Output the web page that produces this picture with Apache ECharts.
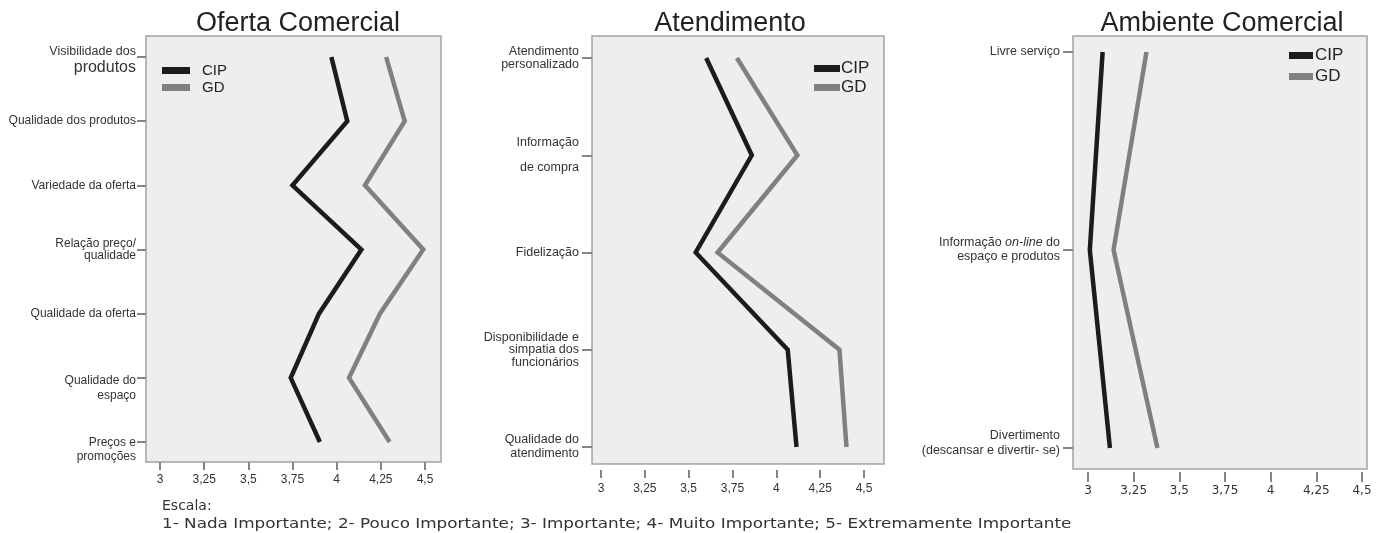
<!DOCTYPE html>
<html><head><meta charset="utf-8">
<script src="https://cdn.jsdelivr.net/npm/echarts@6/dist/echarts.min.js"></script>
<style>html,body{margin:0;padding:0;background:#fff}#c{width:1387px;height:533px}</style>
</head><body><div id="c"></div>
<script>
// ---- data ----
const panelTitles = ['Oferta Comercial', 'Atendimento', 'Ambiente Comercial'];
const seriesNames = ['CIP', 'GD'];
const tickValues = [3, 3.25, 3.5, 3.75, 4, 4.25, 4.5];
const tickLabels = ['3', '3,25', '3,5', '3,75', '4', '4,25', '4,5'];

const ofertaCategories = ['Visibilidade dos\nprodutos', 'Qualidade dos produtos', 'Variedade da oferta', 'Relação preço/\nqualidade', 'Qualidade da oferta', 'Qualidade do\nespaço', 'Preços e\npromoções'];
const ofertaCIP = [3.97, 4.06, 3.75, 4.14, 3.90, 3.74, 3.905];
const ofertaGD = [4.28, 4.385, 4.16, 4.49, 4.245, 4.07, 4.30];

const atendCategories = ['Atendimento\npersonalizado', 'Informação\nde compra', 'Fidelização', 'Disponibilidade e\nsimpatia dos\nfuncionários', 'Qualidade do\natendimento'];
const atendCIP = [3.60, 3.86, 3.54, 4.065, 4.115];
const atendGD = [3.775, 4.12, 3.665, 4.36, 4.40];

const ambCategories = ['Livre serviço', 'Informação on-line do\nespaço e produtos', 'Divertimento\n(descansar e divertir- se)'];
const ambCIP = [3.08, 3.01, 3.12];
const ambGD = [3.32, 3.14, 3.38];

const scaleLabel = 'Escala:';
const scaleText = '1- Nada Importante; 2- Pouco Importante; 3- Importante; 4- Muito Importante; 5- Extremamente Importante';

// ---- layout / style ----
const panels = [
  {cats: ofertaCategories, cip: ofertaCIP, gd: ofertaGD,
   box: {left: 146, top: 36, width: 295, height: 426},
   data: {left: 160, top: 57, width: 265, height: 385},
   yOffset: 14, xOffset: 20, xTick: 8, xMargin: 12, xFont: 'Liberation Sans', yTick: 9, yMargin: 10, yFont: 12,
   titleX: 293,
   itemStyles: [{padding: [8, 0, 0, 0]}, null, null, {lineHeight: 12}, null, {lineHeight: 15, padding: [21, 0, 0, 0]}, {lineHeight: 14, padding: [16, 0, 0, 0]}],
   legend: {left: 157, top: 58, itemWidth: 28, itemGap: 2, fontSize: 15, textPad: [0, 0, 0, 7]}},
  {cats: atendCategories, cip: atendCIP, gd: atendGD,
   box: {left: 592, top: 36, width: 292, height: 428},
   data: {left: 601, top: 58, width: 263, height: 389},
   yOffset: 9, xOffset: 23, xTick: 8, xMargin: 13, xFont: 'Liberation Sans', yTick: 10, yMargin: 13, yFont: 12.5,
   titleX: 725,
   itemStyles: [{lineHeight: 13}, {lineHeight: 25}, null, {lineHeight: 12.5}, {lineHeight: 14}],
   legend: {left: 809, top: 55, itemWidth: 26, itemGap: 2, fontSize: 17, textPad: [0, 0, 0, -4]}},
  {cats: ambCategories, cip: ambCIP, gd: ambGD,
   box: {left: 1073, top: 36, width: 294, height: 433},
   data: {left: 1088, top: 52, width: 274, height: 396},
   yOffset: 15, xOffset: 24, xTick: 10, xMargin: 13, xFont: 'DejaVu Sans', yTick: 10, yMargin: 13, yFont: 12.5,
   titleX: 1217,
   itemStyles: [null, {lineHeight: 14}, {lineHeight: 15, padding: [0, 0, 9, 0]}],
   legend: {left: 1284, top: 42, itemWidth: 24, itemGap: 4, fontSize: 17, textPad: [0, 0, 0, -3]}}
];
const colors = {CIP: '#1c1c1c', GD: '#808080'};
const tickColor = '#858585';

const grid = [], xAxis = [], yAxis = [], series = [], legend = [], title = [];
panels.forEach((p, i) => {
  // background box grid
  grid.push(Object.assign({show: true, backgroundColor: '#eeeeee', borderColor: '#a3a3a3', borderWidth: 1.5, z: 0}, p.box));
  const bi = grid.length - 1;
  xAxis.push({gridIndex: bi, type: 'value', show: false, min: 0, max: 1});
  yAxis.push({gridIndex: bi, type: 'value', show: false, min: 0, max: 1});
  // data grid
  grid.push(Object.assign({show: false}, p.data));
  const di = grid.length - 1;
  xAxis.push({
    gridIndex: di, type: 'value', min: tickValues[0], max: tickValues[tickValues.length - 1], interval: 0.25,
    position: 'bottom', offset: p.xOffset,
    axisLine: {show: false}, splitLine: {show: false},
    axisTick: {show: true, length: p.xTick, lineStyle: {color: tickColor, width: 2}},
    axisLabel: {margin: p.xMargin, fontSize: 12, fontFamily: p.xFont, color: '#333',
      formatter: v => { const k = tickValues.findIndex(t => Math.abs(t - v) < 1e-6); return k >= 0 ? tickLabels[k] : ''; }}
  });
  const isRichFirst = (i === 0);
  yAxis.push({
    gridIndex: di, type: 'category', inverse: true, boundaryGap: false, offset: p.yOffset,
    data: p.cats.map((c, k) => p.itemStyles[k] ? {value: c, textStyle: p.itemStyles[k]} : c),
    axisLine: {show: false}, splitLine: {show: false},
    axisTick: {show: true, interval: 0, length: p.yTick, lineStyle: {color: tickColor, width: 2}},
    axisLabel: {interval: 0, margin: p.yMargin, fontSize: p.yFont, fontFamily: 'Liberation Sans', color: '#333', lineHeight: 13,
      formatter: (v, k) => {
        if (isRichFirst && k === 0) { const ls = v.split('\n'); return '{a|' + ls[0] + '}\n{b|' + ls[1] + '}'; }
        if (v.indexOf('on-line') >= 0) {
          return v.split('\n').map(l => l.indexOf('on-line') >= 0 ? '{n|' + l.replace('on-line', '}{it|on-line}{n|') + '}' : '{n|' + l + '}').join('\n');
        }
        return v;
      },
      rich: {
        a: {fontSize: 12.5, lineHeight: 13, fontFamily: 'Liberation Sans', color: '#333'},
        b: {fontSize: 16, lineHeight: 18, fontFamily: 'Liberation Sans', color: '#333'},
        n: {fontSize: 12.5, lineHeight: 14, fontFamily: 'Liberation Sans', color: '#333'},
        it: {fontSize: 12.5, lineHeight: 14, fontFamily: 'Liberation Sans', fontStyle: 'italic', color: '#333'}
      }}
  });
  [['CIP', p.cip], ['GD', p.gd]].forEach(([nm, vals]) => {
    series.push({
      name: nm, type: 'line', xAxisIndex: di, yAxisIndex: di, showSymbol: false, symbol: 'none', silent: true,
      itemStyle: {color: colors[nm]}, lineStyle: {color: colors[nm], width: 4.5, cap: 'butt', join: 'miter'},
      data: vals.map((v, k) => [v, p.cats[k]]), z: 3
    });
  });
  legend.push({
    data: seriesNames, orient: 'vertical', left: p.legend.left, top: p.legend.top,
    icon: 'rect', itemWidth: p.legend.itemWidth, itemHeight: 7, itemGap: p.legend.itemGap,
    selectedMode: false,
    textStyle: {fontSize: p.legend.fontSize, fontFamily: 'Liberation Sans', color: '#222', padding: p.legend.textPad}
  });
  title.push({text: panelTitles[i], left: p.titleX, top: 5, textAlign: 'center',
    textStyle: {fontSize: 27, fontWeight: 'normal', fontFamily: 'Liberation Sans', color: '#222'}});
});

const noteFont = {fontSize: 14, fontFamily: 'DejaVu Sans', fill: '#333', verticalAlign: 'top', lineHeight: 17};
const graphic = [
  {type: 'text', x: 162, y: 498, style: Object.assign({text: scaleLabel}, noteFont)},
  {type: 'text', x: 162, y: 516, scaleX: 1.2, style: Object.assign({text: scaleText}, noteFont)}
];

const chart = echarts.init(document.getElementById('c'), null, {renderer: 'canvas'});
chart.setOption({animation: false, title, grid, xAxis, yAxis, legend, series, graphic});
</script>
</body></html>
